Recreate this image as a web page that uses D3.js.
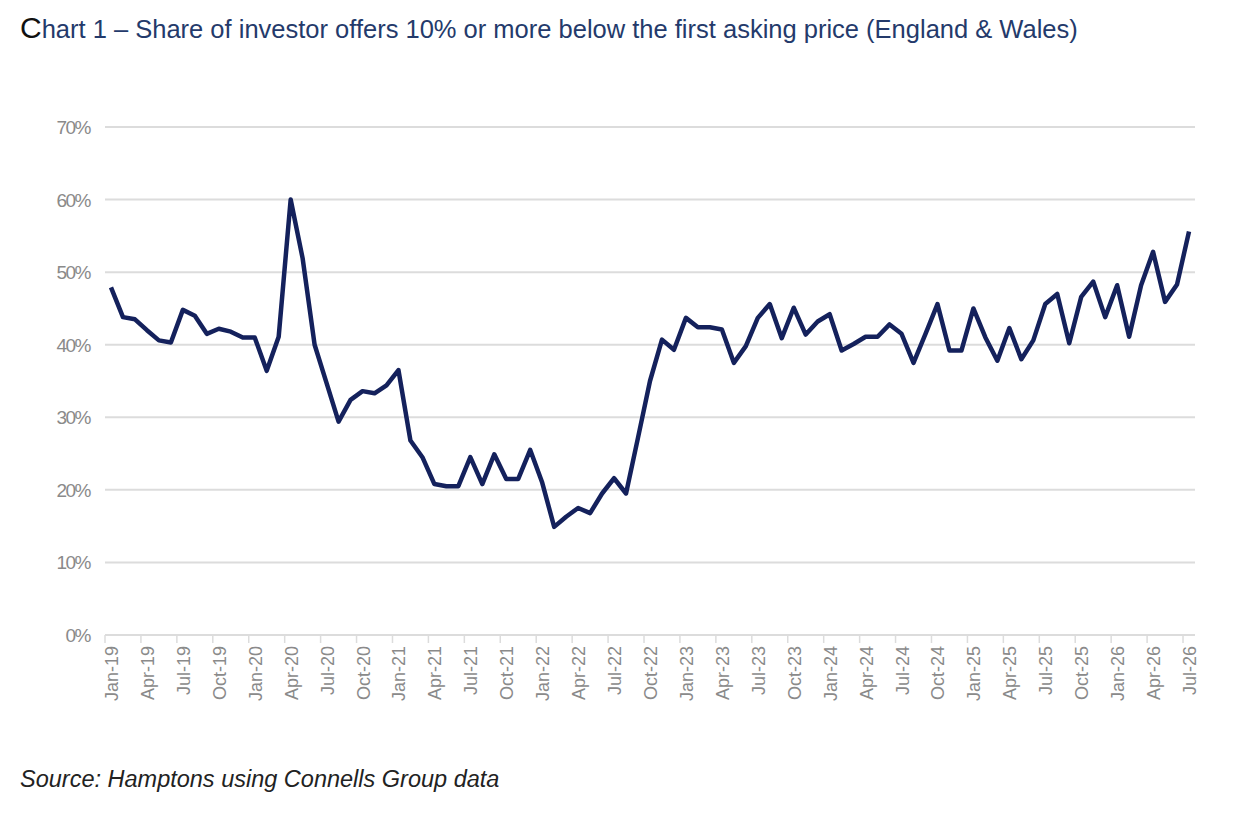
<!DOCTYPE html>
<html>
<head>
<meta charset="utf-8">
<script src="https://cdn.jsdelivr.net/npm/d3@7"></script>
<style>
  body { margin: 0; background: #fff; }
</style>
</head>
<body>
<svg class="chart"></svg>
<script>
'use strict';

var monthNames = ['Jan', 'Feb', 'Mar', 'Apr', 'May', 'Jun', 'Jul', 'Aug', 'Sep', 'Oct', 'Nov', 'Dec'];

// monthly share (%), Jan-19 .. Jul-26
var shareValues = [
  47.9, 43.8, 43.5, 42.0, 40.6, 40.3, 44.8, 44.0, 41.5, 42.2, 41.8, 41.0,
  41.0, 36.4, 41.1, 60.0, 51.9, 40.0, 34.7, 29.4, 32.4, 33.6, 33.3, 34.4,
  36.5, 26.8, 24.5, 20.8, 20.5, 20.5, 24.5, 20.8, 24.9, 21.5, 21.5, 25.5,
  21.0, 14.9, 16.3, 17.5, 16.8, 19.5, 21.6, 19.5, 27.2, 35.0, 40.7, 39.3,
  43.7, 42.4, 42.4, 42.1, 37.5, 39.8, 43.7, 45.6, 40.9, 45.1, 41.4, 43.2,
  44.2, 39.2, 40.1, 41.1, 41.1, 42.8, 41.5, 37.5, 41.5, 45.6, 39.2, 39.2,
  45.0, 41.0, 37.8, 42.3, 38.0, 40.6, 45.6, 47.0, 40.2, 46.6, 48.7, 43.8,
  48.2, 41.1, 48.2, 52.8, 45.9, 48.3, 55.6
];

var yTicks = [0, 10, 20, 30, 40, 50, 60, 70];

var months = shareValues.map(function (d, i) {
  var y = 19 + Math.floor(i / 12);
  return monthNames[i % 12] + '-' + y;
});

var width = 1234, height = 816;
var margin = {left: 105, right: 39, top: 127, bottom: 181};

var svg = d3.select('.chart').attr('width', width).attr('height', height);

var x = d3.scaleBand()
    .domain(months)
    .range([margin.left, width - margin.right]);

var y = d3.scaleLinear()
    .domain([0, 70])
    .range([height - margin.bottom, margin.top]);

// gridlines
svg.append('g').selectAll('line')
    .data(yTicks)
    .enter().append('line')
    .attr('x1', margin.left).attr('x2', width - margin.right)
    .attr('y1', function (d) {return y(d);})
    .attr('y2', function (d) {return y(d);})
    .style('stroke', '#dcdcdc').style('stroke-width', 2);

// y labels
svg.append('g').selectAll('text')
    .data(yTicks)
    .enter().append('text')
    .attr('x', 90)
    .attr('y', function (d) {return y(d) + 7;})
    .attr('text-anchor', 'end')
    .style('font', '19px "Liberation Sans", sans-serif')
    .style('fill', '#8a8a8a')
    .style('letter-spacing', '-1.5px')
    .text(function (d) {return d + '%';});

// x axis ticks (between categories, every quarter)
var tickMonths = months.filter(function (d, i) {return i % 3 === 0;});
svg.append('g').selectAll('line')
    .data(tickMonths)
    .enter().append('line')
    .attr('x1', function (d) {return x(d);})
    .attr('x2', function (d) {return x(d);})
    .attr('y1', y(0)).attr('y2', y(0) + 8)
    .style('stroke', '#dcdcdc').style('stroke-width', 1.5);

svg.append('g').selectAll('text')
    .data(tickMonths)
    .enter().append('text')
    .attr('transform', function (d) {
      return 'translate(' + (x(d) + x.bandwidth() / 2 + 7) + ',' + (y(0) + 11) + ') rotate(-90)';
    })
    .attr('text-anchor', 'end')
    .style('font', '18px "Liberation Sans", sans-serif')
    .style('fill', '#8a8a8a')
    .text(function (d) {return d;});

// the line
var line = d3.line()
    .x(function (d, i) {return x(months[i]) + x.bandwidth() / 2;})
    .y(function (d) {return y(d);});

svg.append('path')
    .datum(shareValues)
    .attr('d', line)
    .style('fill', 'none')
    .style('stroke', '#14215c')
    .style('stroke-width', 4.5)
    .style('stroke-linejoin', 'round');

// title
var title = svg.append('text')
    .attr('x', 20).attr('y', 38)
    .style('font-family', '"Liberation Sans", Arial, sans-serif');
title.append('tspan').text('C').style('font-size', '30px').style('fill', '#111');
title.append('tspan').text('hart 1 \u2013 Share of investor offers 10% or more below the first asking price (England & Wales)')
    .style('font-size', '25.5px').style('fill', '#243a6b');

svg.append('text')
    .attr('x', 20).attr('y', 787)
    .style('font', 'italic 23.5px "Liberation Sans", Arial, sans-serif')
    .style('fill', '#222')
    .text('Source: Hamptons using Connells Group data');
</script>
</body>
</html>
